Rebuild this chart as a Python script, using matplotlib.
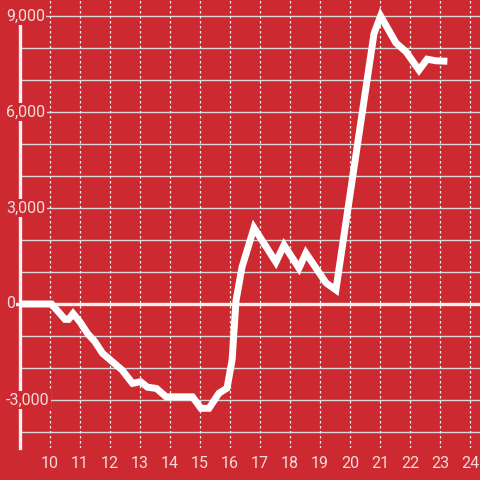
import matplotlib
matplotlib.use("Agg")
from matplotlib import pyplot as plt

# hour of day vs cumulative value
hours = [9.0, 10.05, 10.5, 10.62, 10.77, 11.0, 11.25, 11.5, 11.75, 12.4, 12.75,
         13.02, 13.25, 13.55, 13.87, 14.75, 15.03, 15.3, 15.63, 15.9, 16.07,
         16.2, 16.4, 16.8, 17.53, 17.8, 18.3, 18.53, 19.2, 19.53, 20.03,
         20.8, 21.02, 21.53, 21.87, 22.3, 22.57, 22.87, 23.13]
values = [0, 0, -480, -480, -300, -560, -920, -1180, -1540, -2060, -2480,
          -2430, -2600, -2640, -2900, -2900, -3260, -3260, -2790, -2630, -1750,
          100, 1150, 2380, 1310, 1840, 1120, 1590, 660, 440, 3600,
          8450, 9000, 8160, 7880, 7310, 7650, 7600, 7590]
x_ticks = list(range(10, 25))
y_ticks = [-3000, 0, 3000, 6000, 9000]

bg = "#cc2a30"
txt = "#f3dada"
plt.rcParams['font.family'] = ['Roboto', 'DejaVu Sans']

fig = plt.figure(figsize=(4.8, 4.8), dpi=100, facecolor=bg)
ax = fig.add_axes([20/480, 32/480, 460/480, 448/480])
ax.set_facecolor(bg)
ax.set_xlim(9, 9 + 460/30)
ax.set_ylim(-4500, 9500)

# grid
for yv in range(-4000, 9001, 1000):
    ax.axhline(yv, color="#d8d8d8", lw=1.0, zorder=1)
for xv in x_ticks:
    ax.axvline(xv, color="#f0f0f0", lw=0.9, ls=(0, (2, 2)), zorder=1)
ax.axhline(0, xmin=-0.006, color="#f4f0f0", lw=2.4, zorder=2, clip_on=False)

for s in ["top", "right", "bottom"]:
    ax.spines[s].set_visible(False)
ax.spines["left"].set_color("#f4f0f0")
ax.spines["left"].set_linewidth(2.4)
ax.spines["left"].set_bounds(-4500, 9000)
ax.spines["left"].set_zorder(3)

ax.plot(hours, values, color="white", lw=5, solid_joinstyle="miter", zorder=6)

ax.set_xticks(x_ticks)
ax.set_xticklabels([str(t) for t in x_ticks])
ax.tick_params(axis="x", length=0, pad=6, labelsize=11.5, labelcolor=txt)
ax.set_yticks([])
for yv in y_ticks:
    ax.text(-14/460, yv, f"{yv:,}",
            transform=ax.get_yaxis_transform(), ha="left", va="center",
            fontsize=11.5, color=txt, zorder=5, clip_on=False,
            bbox=dict(facecolor=bg, edgecolor="none", pad=1.0))

fig.savefig("out.png", dpi=100, facecolor=bg)
